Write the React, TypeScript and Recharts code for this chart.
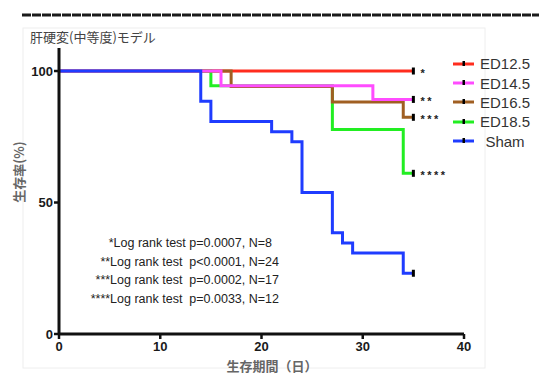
import React from 'react'
import { LineChart, Line, XAxis, YAxis } from 'recharts'

// Kaplan-Meier steps: day of event, survival (%) after the event
const ed125Days = [0, 35]
const ed125Surv = [100, 100]
const ed145Days = [0, 16, 31, 35]
const ed145Surv = [100, 94.4, 89.2, 89.2]
const ed165Days = [0, 17, 27, 34, 35]
const ed165Surv = [100, 94.1, 88.2, 82.4, 82.4]
const ed185Days = [0, 15, 27, 34, 35]
const ed185Surv = [100, 94.4, 77.8, 61.1, 61.1]
const shamDays = [0, 14, 15, 21, 23, 24, 27, 28, 29, 34, 35]
const shamSurv = [100, 88.5, 80.8, 76.9, 73.1, 53.8, 38.5, 34.6, 30.8, 23.1, 23.1]

const xTicks = [0, 10, 20, 30, 40]
const yTicks = [0, 50, 100]

const notes = [
  '*Log rank test p=0.0007, N=8',
  '**Log rank test  p<0.0001, N=24',
  '***Log rank test  p=0.0002, N=17',
  '****Log rank test  p=0.0033, N=12',
]

const toPoints = (days: number[], surv: number[]) => days.map((d, i) => ({ day: d, surv: surv[i] }))

const series = [
  { name: 'ED12.5', color: '#ff2d1e', marks: '*', data: toPoints(ed125Days, ed125Surv) },
  { name: 'ED14.5', color: '#ff4cff', marks: '**', data: toPoints(ed145Days, ed145Surv) },
  { name: 'ED16.5', color: '#a05f22', marks: '***', data: toPoints(ed165Days, ed165Surv) },
  { name: 'ED18.5', color: '#22ee22', marks: '****', data: toPoints(ed185Days, ed185Surv) },
  { name: 'Sham', color: '#1f3cff', marks: '', data: toPoints(shamDays, shamSurv) },
]

// draw order: red at the bottom, blue on top
const drawOrder = ['ED12.5', 'ED18.5', 'ED16.5', 'ED14.5', 'Sham']

const endDot = (last: number, marks: string) => (props: any) => {
  const { cx, cy, index } = props
  if (index !== last) return <g key={index} />
  return (
    <g key={index}>
      <rect x={cx - 1.5} y={cy - 3.5} width={3} height={7} fill="#000" />
      {marks && (
        <text x={cx + 7} y={cy + 6} fontSize={11} fontWeight="bold" letterSpacing={2.5} fill="#222" fontFamily="Liberation Sans">
          {marks}
        </text>
      )}
    </g>
  )
}

const tickStyle = { fill: '#1a1a1a', fontSize: 13, fontWeight: 'bold' as const, fontFamily: 'Liberation Sans' }

export default function App() {
  return (
    <div style={{ position: 'absolute', left: 0, top: 0, width: 539, height: 374, background: '#fff', overflow: 'hidden' }}>
      <svg width={539} height={374} style={{ position: 'absolute', left: 0, top: 0 }}>
        <line x1={22} y1={15} x2={539} y2={15} stroke="#1a1a1a" strokeWidth={3} strokeDasharray="9 1" />
        <rect x={23} y={28} width={462} height={340} fill="none" stroke="#eeeeee" strokeWidth={1} />
      </svg>
      <div style={{ position: 'absolute', left: 0, top: 0 }}>
        <LineChart width={539} height={374} margin={{ top: 48, right: 75, bottom: 10, left: 0 }}>
          <XAxis
            type="number"
            dataKey="day"
            domain={[0, 40]}
            ticks={xTicks}
            height={30}
            tick={tickStyle}
            tickSize={5}
            tickMargin={3}
            axisLine={{ stroke: '#111', strokeWidth: 3 }}
            tickLine={{ stroke: '#111', strokeWidth: 2.5 }}
            allowDuplicatedCategory={false}
          />
          <YAxis
            type="number"
            domain={[0, 108.75]}
            ticks={yTicks}
            width={59}
            tick={tickStyle}
            tickSize={5}
            tickMargin={1}
            axisLine={{ stroke: '#111', strokeWidth: 3 }}
            tickLine={{ stroke: '#111', strokeWidth: 2.5 }}
          />
          {drawOrder.map((n) => {
            const s = series.find((x) => x.name === n)!
            return (
              <Line
                key={s.name}
                data={s.data}
                dataKey="surv"
                type="stepAfter"
                stroke={s.color}
                strokeWidth={3}
                dot={endDot(s.data.length - 1, s.marks)}
                activeDot={false}
                isAnimationActive={false}
              />
            )
          })}
        </LineChart>
      </div>
      <div style={{ position: 'absolute', left: 30, top: 27, fontSize: 13, color: '#444', fontFamily: 'Noto Sans CJK JP', whiteSpace: 'nowrap' }}>
        肝硬変(中等度)モデル
      </div>
      <div
        style={{
          position: 'absolute', left: 18, top: 172, transform: 'translate(-50%, -50%) rotate(-90deg)',
          fontSize: 13, color: '#666', fontWeight: 'bold', fontFamily: 'Noto Sans CJK JP', whiteSpace: 'nowrap',
        }}
      >
        生存率(%)
      </div>
      <div
        style={{
          position: 'absolute', left: 272, top: 366, transform: 'translate(-50%, -50%)',
          fontSize: 13, lineHeight: '14px', color: '#666', fontWeight: 'bold', fontFamily: 'Noto Sans CJK JP', whiteSpace: 'nowrap',
        }}
      >
        生存期間（日）
      </div>
      <div style={{ position: 'absolute', left: 58, top: 234, width: 221, textAlign: 'right', fontSize: 12.5, lineHeight: '18.7px', color: '#222', fontFamily: 'Liberation Sans' }}>
        {notes.map((t, i) => (
          <div key={t} style={{ whiteSpace: 'pre', paddingRight: i === 0 ? 7 : 0 }}>{t}</div>
        ))}
      </div>
      <div style={{ position: 'absolute', left: 450, top: 54 }}>
        {series.map((s) => (
          <div key={s.name} style={{ display: 'flex', alignItems: 'center', height: 19.4 }}>
            <svg width={28} height={10}>
              <line x1={3} y1={5} x2={24} y2={5} stroke={s.color} strokeWidth={3} />
              <rect x={12.5} y={2} width={2.5} height={5} fill="#000" />
            </svg>
            <span style={{ width: 54, textAlign: 'center', fontSize: 15, color: '#333', fontFamily: 'Liberation Sans' }}>{s.name}</span>
          </div>
        ))}
      </div>
    </div>
  )
}
